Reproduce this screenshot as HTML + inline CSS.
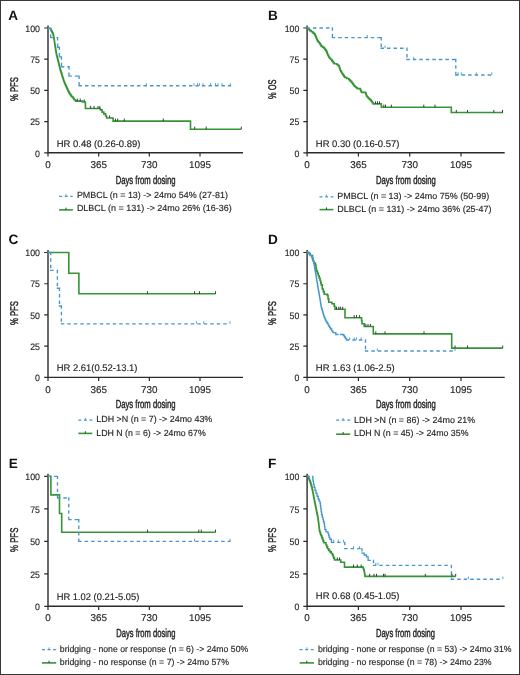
<!DOCTYPE html><html><head><meta charset="utf-8"><style>html,body{margin:0;padding:0;background:#fff;}#wrap{position:relative;width:520px;height:675px;overflow:hidden;}#bd{position:absolute;left:0;top:0;width:520px;height:675px;box-sizing:border-box;border:1px solid #383838;}svg{display:block;filter:blur(0.3px);}text{font-family:"Liberation Sans",sans-serif;text-rendering:geometricPrecision;}</style></head><body><div id="wrap">
<svg width="520" height="675" viewBox="0 0 520 675">
<rect x="0" y="0" width="520" height="675" fill="#fff"/>
<path d="M48,25.5V152.8H243" stroke="#2b2b2b" stroke-width="1.4" fill="none"/>
<path d="M44.2,28.00H48M44.2,59.20H48M44.2,90.40H48M44.2,121.60H48M44.2,152.80H48M48.00,152.8v3.6M98.67,152.8v3.6M149.33,152.8v3.6M200.00,152.8v3.6" stroke="#2b2b2b" stroke-width="1.2" fill="none"/>
<text x="40.0" y="31.70" font-size="9.4" font-weight="normal" text-anchor="end" fill="#262626" textLength="14.7" lengthAdjust="spacingAndGlyphs" stroke="#262626" stroke-width="0.15">100</text>
<text x="40.0" y="62.90" font-size="9.4" font-weight="normal" text-anchor="end" fill="#262626" textLength="9.8" lengthAdjust="spacingAndGlyphs" stroke="#262626" stroke-width="0.15">75</text>
<text x="40.0" y="94.10" font-size="9.4" font-weight="normal" text-anchor="end" fill="#262626" textLength="9.8" lengthAdjust="spacingAndGlyphs" stroke="#262626" stroke-width="0.15">50</text>
<text x="40.0" y="125.30" font-size="9.4" font-weight="normal" text-anchor="end" fill="#262626" textLength="9.8" lengthAdjust="spacingAndGlyphs" stroke="#262626" stroke-width="0.15">25</text>
<text x="40.0" y="156.50" font-size="9.4" font-weight="normal" text-anchor="end" fill="#262626" textLength="4.9" lengthAdjust="spacingAndGlyphs" stroke="#262626" stroke-width="0.15">0</text>
<text x="48.00" y="168.30" font-size="9.9" font-weight="normal" text-anchor="middle" fill="#262626" stroke="#262626" stroke-width="0.15">0</text>
<text x="98.67" y="168.30" font-size="9.9" font-weight="normal" text-anchor="middle" fill="#262626" stroke="#262626" stroke-width="0.15">365</text>
<text x="149.33" y="168.30" font-size="9.9" font-weight="normal" text-anchor="middle" fill="#262626" stroke="#262626" stroke-width="0.15">730</text>
<text x="200.00" y="168.30" font-size="9.9" font-weight="normal" text-anchor="middle" fill="#262626" stroke="#262626" stroke-width="0.15">1095</text>
<text x="8.2" y="19.7" font-size="13.6" font-weight="bold" text-anchor="start" fill="#111">A</text>
<text transform="translate(17.5,89.1) rotate(-90)" x="0" y="0" font-size="11.2" text-anchor="middle" fill="#262626" stroke="#262626" stroke-width="0.45" textLength="24" lengthAdjust="spacingAndGlyphs">% PFS</text>
<text x="115.65" y="183.9" font-size="11.6" font-weight="normal" text-anchor="start" fill="#262626" textLength="60" lengthAdjust="spacingAndGlyphs" stroke="#262626" stroke-width="0.45">Days from dosing</text>
<text x="56.7" y="146.8" font-size="9.6" font-weight="normal" text-anchor="start" fill="#262626" textLength="83.7" lengthAdjust="spacingAndGlyphs" stroke="#262626" stroke-width="0.15">HR 0.48 (0.26-0.89)</text>
<path d="M59.1,196.3H72.7" stroke="#4896cd" stroke-width="1.3" stroke-dasharray="3 2.6" fill="none"/>
<path d="M65.9,196.3v-2.2" stroke="#4896cd" stroke-width="0.9" fill="none"/>
<path d="M59.1,209.9H72.9" stroke="#369436" stroke-width="1.6" fill="none"/>
<path d="M66.0,209.9v-2.2" stroke="#2b2b2b" stroke-width="0.9" fill="none"/>
<text x="76.9" y="198.4" font-size="8.9" font-weight="normal" text-anchor="start" fill="#262626" textLength="151" lengthAdjust="spacingAndGlyphs" stroke="#262626" stroke-width="0.15">PMBCL (n = 13) -&gt; 24mo 54% (27-81)</text>
<text x="76.9" y="211.2" font-size="8.9" font-weight="normal" text-anchor="start" fill="#262626" textLength="154.8" lengthAdjust="spacingAndGlyphs" stroke="#262626" stroke-width="0.15">DLBCL (n = 131) -&gt; 24mo 26% (16-36)</text>
<path d="M48,28.3H50.30V28.80H50.80V29.77H51.30V30.73H51.80V31.70H52.23V32.53H52.67V33.37H53.10V34.20H53.30V35.10H53.50V36.00H53.70V36.90H53.87V37.93H54.03V38.97H54.20V40.00H54.34V41.00H54.48V42.00H54.62V43.00H54.76V44.00H54.90V45.00H55.06V45.98H55.22V46.96H55.38V47.94H55.54V48.92H55.70V49.90H55.86V50.88H56.02V51.86H56.18V52.84H56.34V53.82H56.50V54.80H56.74V55.72H56.98V56.65H57.21V57.58H57.45V58.50H57.69V59.42H57.92V60.35H58.16V61.28H58.40V62.20H58.62V63.12H58.85V64.05H59.08V64.97H59.30V65.90H59.52V66.83H59.75V67.75H59.98V68.67H60.20V69.60H60.52V70.60H60.83V71.60H61.15V72.60H61.47V73.60H61.78V74.60H62.10V75.60H62.40V76.58H62.70V77.57H63.00V78.55H63.30V79.53H63.60V80.52H63.90V81.50H64.33V82.48H64.77V83.47H65.20V84.45H65.63V85.43H66.07V86.42H66.50V87.40H66.95V88.35H67.40V89.30H67.85V90.25H68.30V91.20H68.75V92.15H69.20V93.10H69.78V93.95H70.35V94.80H70.92V95.65H71.50V96.50H72.40V97.40H73.30V98.30H73.85V99.15H74.40V100.00H75.60V101.10H81.90H82.50V102.00H85.30H85.33V102.93H85.36V103.86H85.39V104.79H85.41V105.71H85.44V106.64H85.47V107.57H85.50V108.50H100.3V109.9H102.1V112.1H103.8V113.9H105.6V116H106.6V118H113.1V121.1H190.5V129.2H241.3" stroke="#369436" stroke-width="1.6" fill="none"/>
<path d="M48.00,28.30H50.70M50.70,28.30V37.60M50.70,37.60H57.60M57.60,37.60V47.20M57.60,47.20H59.40M59.40,47.20V56.80M59.40,56.80H61.50M61.50,56.80V66.70M61.50,66.70H69.00M69.00,66.70V76.10M69.00,76.10H79.10M79.10,76.10V85.70M79.10,85.70H230.50" stroke="#4896cd" stroke-width="1.35" stroke-linecap="square" stroke-dasharray="2.15 4.35" fill="none"/>
<path d="M77.30,101.10v-2.6M80.20,101.10v-2.6M84.20,102.00v-2.6M90.60,108.50v-2.6M94.00,108.50v-2.6M98.00,108.50v-2.6M99.80,108.50v-2.6M109.60,118.00v-2.6M115.40,121.10v-2.6M117.70,121.10v-2.6M124.30,121.10v-2.6M163.30,121.10v-2.6M194.70,129.20v-2.6M206.20,129.20v-2.6M241.30,129.20v-2.6" stroke="#2b2b2b" stroke-width="0.9" fill="none"/>
<path d="M146.40,85.70v-2.6M194.00,85.70v-2.6M197.50,85.70v-2.6M199.50,85.70v-2.6M203.00,85.70v-2.6M210.50,85.70v-2.6M215.50,85.70v-2.6M218.00,85.70v-2.6M222.00,85.70v-2.6M230.30,85.70v-2.6" stroke="#4896cd" stroke-width="0.9" fill="none"/>
<path d="M307.1,25.5V152.8H504.7" stroke="#2b2b2b" stroke-width="1.4" fill="none"/>
<path d="M303.3,28.00H307.1M303.3,59.20H307.1M303.3,90.40H307.1M303.3,121.60H307.1M303.3,152.80H307.1M307.10,152.8v3.6M358.40,152.8v3.6M409.70,152.8v3.6M461.00,152.8v3.6" stroke="#2b2b2b" stroke-width="1.2" fill="none"/>
<text x="299.4" y="31.70" font-size="9.4" font-weight="normal" text-anchor="end" fill="#262626" textLength="14.7" lengthAdjust="spacingAndGlyphs" stroke="#262626" stroke-width="0.15">100</text>
<text x="299.4" y="62.90" font-size="9.4" font-weight="normal" text-anchor="end" fill="#262626" textLength="9.8" lengthAdjust="spacingAndGlyphs" stroke="#262626" stroke-width="0.15">75</text>
<text x="299.4" y="94.10" font-size="9.4" font-weight="normal" text-anchor="end" fill="#262626" textLength="9.8" lengthAdjust="spacingAndGlyphs" stroke="#262626" stroke-width="0.15">50</text>
<text x="299.4" y="125.30" font-size="9.4" font-weight="normal" text-anchor="end" fill="#262626" textLength="9.8" lengthAdjust="spacingAndGlyphs" stroke="#262626" stroke-width="0.15">25</text>
<text x="299.4" y="156.50" font-size="9.4" font-weight="normal" text-anchor="end" fill="#262626" textLength="4.9" lengthAdjust="spacingAndGlyphs" stroke="#262626" stroke-width="0.15">0</text>
<text x="307.10" y="168.30" font-size="9.9" font-weight="normal" text-anchor="middle" fill="#262626" stroke="#262626" stroke-width="0.15">0</text>
<text x="358.40" y="168.30" font-size="9.9" font-weight="normal" text-anchor="middle" fill="#262626" stroke="#262626" stroke-width="0.15">365</text>
<text x="409.70" y="168.30" font-size="9.9" font-weight="normal" text-anchor="middle" fill="#262626" stroke="#262626" stroke-width="0.15">730</text>
<text x="461.00" y="168.30" font-size="9.9" font-weight="normal" text-anchor="middle" fill="#262626" stroke="#262626" stroke-width="0.15">1095</text>
<text x="267.9" y="19.7" font-size="13.6" font-weight="bold" text-anchor="start" fill="#111">B</text>
<text transform="translate(276.4,89.3) rotate(-90)" x="0" y="0" font-size="11.2" text-anchor="middle" fill="#262626" stroke="#262626" stroke-width="0.45" textLength="19.5" lengthAdjust="spacingAndGlyphs">% OS</text>
<text x="375.9" y="183.9" font-size="11.6" font-weight="normal" text-anchor="start" fill="#262626" textLength="60" lengthAdjust="spacingAndGlyphs" stroke="#262626" stroke-width="0.45">Days from dosing</text>
<text x="315.8" y="146.8" font-size="9.6" font-weight="normal" text-anchor="start" fill="#262626" textLength="83.6" lengthAdjust="spacingAndGlyphs" stroke="#262626" stroke-width="0.15">HR 0.30 (0.16-0.57)</text>
<path d="M319.5,196.8H333.4" stroke="#4896cd" stroke-width="1.3" stroke-dasharray="3 2.6" fill="none"/>
<path d="M326.45,196.8v-2.2" stroke="#4896cd" stroke-width="0.9" fill="none"/>
<path d="M319.5,209.6H333.4" stroke="#369436" stroke-width="1.6" fill="none"/>
<path d="M326.45,209.6v-2.2" stroke="#2b2b2b" stroke-width="0.9" fill="none"/>
<text x="337.3" y="198.6" font-size="8.9" font-weight="normal" text-anchor="start" fill="#262626" textLength="151.9" lengthAdjust="spacingAndGlyphs" stroke="#262626" stroke-width="0.15">PMBCL (n = 13) -&gt; 24mo 75% (50-99)</text>
<text x="337.3" y="211.5" font-size="8.9" font-weight="normal" text-anchor="start" fill="#262626" textLength="154.2" lengthAdjust="spacingAndGlyphs" stroke="#262626" stroke-width="0.15">DLBCL (n = 131) -&gt; 24mo 36% (25-47)</text>
<path d="M307.1,28.3H307.50V28.50H308.65V29.55H309.80V30.60H311.35V31.75H312.90V32.90H313.85V33.70H314.80V34.50H315.20V35.45H315.60V36.40H316.00V37.35H316.40V38.30H316.77V39.20H317.13V40.10H317.50V41.00H318.27V41.90H319.03V42.80H319.80V43.70H320.33V44.60H320.87V45.50H321.40V46.40H322.75V47.35H324.10V48.30H324.87V49.33H325.63V50.37H326.40V51.40H326.77V52.35H327.15V53.30H327.52V54.25H327.90V55.20H328.43V56.23H328.97V57.27H329.50V58.30H330.65V59.45H331.80V60.60H332.57V61.63H333.33V62.67H334.10V63.70H336.80V64.50H337.95V65.45H339.10V66.40H339.38V67.35H339.65V68.30H339.93V69.25H340.20V70.20H340.77V71.20H341.33V72.20H341.90V73.20H342.48V74.06H343.06V74.92H343.64V75.78H344.22V76.64H344.80V77.50H346.75V78.45H348.70V79.40H349.63V80.37H350.57V81.33H351.50V82.30H352.23V83.28H352.95V84.25H353.67V85.22H354.40V86.20H355.37V87.00H356.33V87.80H357.30V88.60H360.20V89.50H360.67V90.47H361.13V91.43H361.60V92.40H365.50V92.90H365.85V93.85H366.20V94.80H366.55V95.75H366.90V96.70H367.85V97.70H368.80V98.70H369.80V99.65H370.80V100.60H371.60V101.70H372.40V102.80H373.20V103.90H381.30H381.33V105.00H381.37V106.10H381.40V107.20H451.3V112.5H503" stroke="#369436" stroke-width="1.6" fill="none"/>
<path d="M307.10,28.00H332.40M332.40,28.00V37.60M332.40,37.60H381.20M381.20,37.60V48.20M381.20,48.20H407.00M407.00,48.20V59.50M407.00,59.50H455.80M455.80,59.50V75.00M455.80,75.00H491.80" stroke="#4896cd" stroke-width="1.35" stroke-linecap="square" stroke-dasharray="2.15 4.35" fill="none"/>
<path d="M375.50,103.90v-2.6M377.50,103.90v-2.6M379.50,103.90v-2.6M383.80,107.20v-2.6M385.50,107.20v-2.6M391.30,107.20v-2.6M423.80,107.20v-2.6M435.00,107.20v-2.6M456.30,112.50v-2.6M467.50,112.50v-2.6M493.80,112.50v-2.6M502.50,112.50v-2.6" stroke="#2b2b2b" stroke-width="0.9" fill="none"/>
<path d="M367.30,37.60v-2.6M385.00,48.20v-2.6M413.70,59.50v-2.6M458.00,75.00v-2.6M461.30,75.00v-2.6M476.30,75.00v-2.6M491.80,75.00v-2.6" stroke="#4896cd" stroke-width="0.9" fill="none"/>
<path d="M48,250.0V377.4H243" stroke="#2b2b2b" stroke-width="1.4" fill="none"/>
<path d="M44.2,252.50H48M44.2,283.73H48M44.2,314.95H48M44.2,346.17H48M44.2,377.40H48M48.00,377.4v3.6M98.67,377.4v3.6M149.33,377.4v3.6M200.00,377.4v3.6" stroke="#2b2b2b" stroke-width="1.2" fill="none"/>
<text x="40.0" y="256.20" font-size="9.4" font-weight="normal" text-anchor="end" fill="#262626" textLength="14.7" lengthAdjust="spacingAndGlyphs" stroke="#262626" stroke-width="0.15">100</text>
<text x="40.0" y="287.43" font-size="9.4" font-weight="normal" text-anchor="end" fill="#262626" textLength="9.8" lengthAdjust="spacingAndGlyphs" stroke="#262626" stroke-width="0.15">75</text>
<text x="40.0" y="318.65" font-size="9.4" font-weight="normal" text-anchor="end" fill="#262626" textLength="9.8" lengthAdjust="spacingAndGlyphs" stroke="#262626" stroke-width="0.15">50</text>
<text x="40.0" y="349.87" font-size="9.4" font-weight="normal" text-anchor="end" fill="#262626" textLength="9.8" lengthAdjust="spacingAndGlyphs" stroke="#262626" stroke-width="0.15">25</text>
<text x="40.0" y="381.10" font-size="9.4" font-weight="normal" text-anchor="end" fill="#262626" textLength="4.9" lengthAdjust="spacingAndGlyphs" stroke="#262626" stroke-width="0.15">0</text>
<text x="48.00" y="392.70" font-size="9.9" font-weight="normal" text-anchor="middle" fill="#262626" stroke="#262626" stroke-width="0.15">0</text>
<text x="98.67" y="392.70" font-size="9.9" font-weight="normal" text-anchor="middle" fill="#262626" stroke="#262626" stroke-width="0.15">365</text>
<text x="149.33" y="392.70" font-size="9.9" font-weight="normal" text-anchor="middle" fill="#262626" stroke="#262626" stroke-width="0.15">730</text>
<text x="200.00" y="392.70" font-size="9.9" font-weight="normal" text-anchor="middle" fill="#262626" stroke="#262626" stroke-width="0.15">1095</text>
<text x="8.5" y="243.8" font-size="13.6" font-weight="bold" text-anchor="start" fill="#111">C</text>
<text transform="translate(17.5,313.1) rotate(-90)" x="0" y="0" font-size="11.2" text-anchor="middle" fill="#262626" stroke="#262626" stroke-width="0.45" textLength="24" lengthAdjust="spacingAndGlyphs">% PFS</text>
<text x="115.65" y="408.3" font-size="11.6" font-weight="normal" text-anchor="start" fill="#262626" textLength="60" lengthAdjust="spacingAndGlyphs" stroke="#262626" stroke-width="0.45">Days from dosing</text>
<text x="56.7" y="371.3" font-size="9.6" font-weight="normal" text-anchor="start" fill="#262626" textLength="80.8" lengthAdjust="spacingAndGlyphs" stroke="#262626" stroke-width="0.15">HR 2.61(0.52-13.1)</text>
<path d="M78.3,420.1H92.3" stroke="#4896cd" stroke-width="1.3" stroke-dasharray="3 2.6" fill="none"/>
<path d="M85.3,420.1v-2.2" stroke="#4896cd" stroke-width="0.9" fill="none"/>
<path d="M78.3,433.4H92.3" stroke="#369436" stroke-width="1.6" fill="none"/>
<path d="M85.3,433.4v-2.2" stroke="#2b2b2b" stroke-width="0.9" fill="none"/>
<text x="96.3" y="422.4" font-size="8.9" font-weight="normal" text-anchor="start" fill="#262626" textLength="116" lengthAdjust="spacingAndGlyphs" stroke="#262626" stroke-width="0.15">LDH &gt;N (n = 7) -&gt; 24mo 43%</text>
<text x="96.3" y="435.8" font-size="8.9" font-weight="normal" text-anchor="start" fill="#262626" textLength="109.4" lengthAdjust="spacingAndGlyphs" stroke="#262626" stroke-width="0.15">LDH N (n = 6) -&gt; 24mo 67%</text>
<path d="M48,252.5H68.8V273.2H78.9V293.8H215.5" stroke="#369436" stroke-width="1.6" fill="none"/>
<path d="M48.00,252.50H50.70M50.70,252.50V270.40M50.70,270.40H57.40M57.40,270.40V288.20M57.40,288.20H59.50M59.50,288.20V306.00M59.50,306.00H61.40M61.40,306.00V323.80M61.40,323.80H230.00" stroke="#4896cd" stroke-width="1.35" stroke-linecap="square" stroke-dasharray="2.15 4.35" fill="none"/>
<path d="M147.50,293.80v-2.6M194.50,293.80v-2.6M199.50,293.80v-2.6M215.50,293.80v-2.6" stroke="#2b2b2b" stroke-width="0.9" fill="none"/>
<path d="M196.30,323.80v-2.6M203.80,323.80v-2.6M230.00,323.80v-2.6" stroke="#4896cd" stroke-width="0.9" fill="none"/>
<path d="M307.1,250.0V377.4H504.7" stroke="#2b2b2b" stroke-width="1.4" fill="none"/>
<path d="M303.3,252.50H307.1M303.3,283.73H307.1M303.3,314.95H307.1M303.3,346.17H307.1M303.3,377.40H307.1M307.10,377.4v3.6M358.40,377.4v3.6M409.70,377.4v3.6M461.00,377.4v3.6" stroke="#2b2b2b" stroke-width="1.2" fill="none"/>
<text x="299.4" y="256.20" font-size="9.4" font-weight="normal" text-anchor="end" fill="#262626" textLength="14.7" lengthAdjust="spacingAndGlyphs" stroke="#262626" stroke-width="0.15">100</text>
<text x="299.4" y="287.43" font-size="9.4" font-weight="normal" text-anchor="end" fill="#262626" textLength="9.8" lengthAdjust="spacingAndGlyphs" stroke="#262626" stroke-width="0.15">75</text>
<text x="299.4" y="318.65" font-size="9.4" font-weight="normal" text-anchor="end" fill="#262626" textLength="9.8" lengthAdjust="spacingAndGlyphs" stroke="#262626" stroke-width="0.15">50</text>
<text x="299.4" y="349.87" font-size="9.4" font-weight="normal" text-anchor="end" fill="#262626" textLength="9.8" lengthAdjust="spacingAndGlyphs" stroke="#262626" stroke-width="0.15">25</text>
<text x="299.4" y="381.10" font-size="9.4" font-weight="normal" text-anchor="end" fill="#262626" textLength="4.9" lengthAdjust="spacingAndGlyphs" stroke="#262626" stroke-width="0.15">0</text>
<text x="307.10" y="392.70" font-size="9.9" font-weight="normal" text-anchor="middle" fill="#262626" stroke="#262626" stroke-width="0.15">0</text>
<text x="358.40" y="392.70" font-size="9.9" font-weight="normal" text-anchor="middle" fill="#262626" stroke="#262626" stroke-width="0.15">365</text>
<text x="409.70" y="392.70" font-size="9.9" font-weight="normal" text-anchor="middle" fill="#262626" stroke="#262626" stroke-width="0.15">730</text>
<text x="461.00" y="392.70" font-size="9.9" font-weight="normal" text-anchor="middle" fill="#262626" stroke="#262626" stroke-width="0.15">1095</text>
<text x="267.9" y="243.8" font-size="13.6" font-weight="bold" text-anchor="start" fill="#111">D</text>
<text transform="translate(276.3,313.1) rotate(-90)" x="0" y="0" font-size="11.2" text-anchor="middle" fill="#262626" stroke="#262626" stroke-width="0.45" textLength="24" lengthAdjust="spacingAndGlyphs">% PFS</text>
<text x="375.9" y="408.3" font-size="11.6" font-weight="normal" text-anchor="start" fill="#262626" textLength="60" lengthAdjust="spacingAndGlyphs" stroke="#262626" stroke-width="0.45">Days from dosing</text>
<text x="315.8" y="371.3" font-size="9.6" font-weight="normal" text-anchor="start" fill="#262626" textLength="78.8" lengthAdjust="spacingAndGlyphs" stroke="#262626" stroke-width="0.15">HR 1.63 (1.06-2.5)</text>
<path d="M336.1,420.1H350.2" stroke="#4896cd" stroke-width="1.3" stroke-dasharray="3 2.6" fill="none"/>
<path d="M343.15,420.1v-2.2" stroke="#4896cd" stroke-width="0.9" fill="none"/>
<path d="M336.1,434.2H350.2" stroke="#369436" stroke-width="1.6" fill="none"/>
<path d="M343.15,434.2v-2.2" stroke="#2b2b2b" stroke-width="0.9" fill="none"/>
<text x="354" y="422.6" font-size="8.9" font-weight="normal" text-anchor="start" fill="#262626" textLength="121.2" lengthAdjust="spacingAndGlyphs" stroke="#262626" stroke-width="0.15">LDH &gt;N (n = 86) -&gt; 24mo 21%</text>
<text x="354" y="436.2" font-size="8.9" font-weight="normal" text-anchor="start" fill="#262626" textLength="114.5" lengthAdjust="spacingAndGlyphs" stroke="#262626" stroke-width="0.15">LDH N (n = 45) -&gt; 24mo 35%</text>
<path d="M307.1,252.5H308.50V253.50H310.20V255.50H312.50V258.40H313.10V260.70H313.70V263.00H315.40V265.30H315.95V268.20H316.50V271.10H317.40V273.40H318.30V275.70H319.15V278.00H320.00V280.30H320.60V282.60H321.20V284.90H322.30V289.00H323.25V291.65H324.20V294.30H327.30V295.40H328.05V298.85H328.80V302.30H331.90V303.80H334.20V306.20H335.00V309.30H345V317.7H361.2H361.60V320.75H362.00V323.80H364.20V326.50H373.3V333.9H451.7V348.1H502.7" stroke="#369436" stroke-width="1.6" fill="none"/>
<path d="M307.10,252.50H309.50M309.50,252.50V254.20M309.50,254.20H310.50M310.50,254.20V255.35M310.50,255.35H311.50M311.50,255.35V256.50M311.50,256.50H312.10M312.10,256.50V258.00M312.10,258.00H312.70M312.70,258.00V259.50M312.70,259.50H313.20M313.20,259.50V260.95M313.20,260.95H313.70M313.70,260.95V262.40M313.70,262.40H313.96M313.96,262.40V263.92M313.96,263.92H314.22M314.22,263.92V265.44M314.22,265.44H314.48M314.48,265.44V266.96M314.48,266.96H314.74M314.74,266.96V268.48M314.74,268.48H315.00M315.00,268.48V270.00M315.00,270.00H315.25M315.25,270.00V271.47M315.25,271.47H315.50M315.50,271.47V272.93M315.50,272.93H315.75M315.75,272.93V274.40M315.75,274.40H316.00M316.00,274.40V275.87M316.00,275.87H316.25M316.25,275.87V277.33M316.25,277.33H316.50M316.50,277.33V278.80M316.50,278.80H316.75M316.75,278.80V280.33M316.75,280.33H317.00M317.00,280.33V281.87M317.00,281.87H317.25M317.25,281.87V283.40M317.25,283.40H317.50M317.50,283.40V284.93M317.50,284.93H317.75M317.75,284.93V286.47M317.75,286.47H318.00M318.00,286.47V288.00M318.00,288.00H318.23M318.23,288.00V289.33M318.23,289.33H318.47M318.47,289.33V290.67M318.47,290.67H318.70M318.70,290.67V292.00M318.70,292.00H318.93M318.93,292.00V293.33M318.93,293.33H319.17M319.17,293.33V294.67M319.17,294.67H319.40M319.40,294.67V296.00M319.40,296.00H319.64M319.64,296.00V297.45M319.64,297.45H319.88M319.88,297.45V298.90M319.88,298.90H320.11M320.11,298.90V300.35M320.11,300.35H320.35M320.35,300.35V301.80M320.35,301.80H320.59M320.59,301.80V303.25M320.59,303.25H320.82M320.82,303.25V304.70M320.82,304.70H321.06M321.06,304.70V306.15M321.06,306.15H321.30M321.30,306.15V307.60M321.30,307.60H321.71M321.71,307.60V308.97M321.71,308.97H322.13M322.13,308.97V310.34M322.13,310.34H322.54M322.54,310.34V311.71M322.54,311.71H322.96M322.96,311.71V313.09M322.96,313.09H323.37M323.37,313.09V314.46M323.37,314.46H323.79M323.79,314.46V315.83M323.79,315.83H324.20M324.20,315.83V317.20M324.20,317.20H324.80M324.80,317.20V318.63M324.80,318.63H325.40M325.40,318.63V320.07M325.40,320.07H326.00M326.00,320.07V321.50M326.00,321.50H327.05M327.05,321.50V323.20M327.05,323.20H328.10M328.10,323.20V324.90M328.10,324.90H328.90M328.90,324.90V326.27M328.90,326.27H329.70M329.70,326.27V327.63M329.70,327.63H330.50M330.50,327.63V329.00M330.50,329.00H331.70M331.70,329.00V330.80M331.70,330.80H332.90M332.90,330.80V332.60M332.90,332.60H335.80M335.80,332.60V334.50M335.80,334.50H340.60M340.60,334.50H343.50M343.50,334.50V335.50M343.50,335.50H344.45M344.45,335.50V337.00M344.45,337.00H345.40M345.40,337.00V338.50M345.40,338.50H346.50M346.50,338.50V340.00M346.50,340.00H365.50M365.50,340.00V351.00M365.50,351.00H455.00" stroke="#4896cd" stroke-width="1.35" stroke-linecap="square" stroke-dasharray="2.15 4.35" fill="none"/>
<path d="M336.50,309.30v-2.6M338.80,309.30v-2.6M340.40,309.30v-2.6M342.70,309.30v-2.6M354.20,317.70v-2.6M356.50,317.70v-2.6M359.60,317.70v-2.6M365.80,326.50v-2.6M368.00,326.50v-2.6M370.40,326.50v-2.6M375.80,333.90v-2.6M385.00,333.90v-2.6M424.00,333.90v-2.6M455.00,348.10v-2.6M467.50,348.10v-2.6M502.70,348.10v-2.6" stroke="#2b2b2b" stroke-width="0.9" fill="none"/>
<path d="M349.60,340.00v-2.6M354.20,340.00v-2.6M356.50,340.00v-2.6M361.20,340.00v-2.6M377.30,351.00v-2.6M455.00,351.00v-2.6" stroke="#4896cd" stroke-width="0.9" fill="none"/>
<path d="M48,473.8V606.3H243" stroke="#2b2b2b" stroke-width="1.4" fill="none"/>
<path d="M44.2,476.30H48M44.2,508.80H48M44.2,541.30H48M44.2,573.80H48M44.2,606.30H48M48.00,606.3v3.6M98.67,606.3v3.6M149.33,606.3v3.6M200.00,606.3v3.6" stroke="#2b2b2b" stroke-width="1.2" fill="none"/>
<text x="40.0" y="480.00" font-size="9.4" font-weight="normal" text-anchor="end" fill="#262626" textLength="14.7" lengthAdjust="spacingAndGlyphs" stroke="#262626" stroke-width="0.15">100</text>
<text x="40.0" y="512.50" font-size="9.4" font-weight="normal" text-anchor="end" fill="#262626" textLength="9.8" lengthAdjust="spacingAndGlyphs" stroke="#262626" stroke-width="0.15">75</text>
<text x="40.0" y="545.00" font-size="9.4" font-weight="normal" text-anchor="end" fill="#262626" textLength="9.8" lengthAdjust="spacingAndGlyphs" stroke="#262626" stroke-width="0.15">50</text>
<text x="40.0" y="577.50" font-size="9.4" font-weight="normal" text-anchor="end" fill="#262626" textLength="9.8" lengthAdjust="spacingAndGlyphs" stroke="#262626" stroke-width="0.15">25</text>
<text x="40.0" y="610.00" font-size="9.4" font-weight="normal" text-anchor="end" fill="#262626" textLength="4.9" lengthAdjust="spacingAndGlyphs" stroke="#262626" stroke-width="0.15">0</text>
<text x="48.00" y="621.10" font-size="9.9" font-weight="normal" text-anchor="middle" fill="#262626" stroke="#262626" stroke-width="0.15">0</text>
<text x="98.67" y="621.10" font-size="9.9" font-weight="normal" text-anchor="middle" fill="#262626" stroke="#262626" stroke-width="0.15">365</text>
<text x="149.33" y="621.10" font-size="9.9" font-weight="normal" text-anchor="middle" fill="#262626" stroke="#262626" stroke-width="0.15">730</text>
<text x="200.00" y="621.10" font-size="9.9" font-weight="normal" text-anchor="middle" fill="#262626" stroke="#262626" stroke-width="0.15">1095</text>
<text x="8.85" y="468" font-size="13.6" font-weight="bold" text-anchor="start" fill="#111">E</text>
<text transform="translate(17.6,539.8) rotate(-90)" x="0" y="0" font-size="11.2" text-anchor="middle" fill="#262626" stroke="#262626" stroke-width="0.45" textLength="24.3" lengthAdjust="spacingAndGlyphs">% PFS</text>
<text x="116.2" y="637.0" font-size="11.6" font-weight="normal" text-anchor="start" fill="#262626" textLength="59.2" lengthAdjust="spacingAndGlyphs" stroke="#262626" stroke-width="0.45">Days from dosing</text>
<text x="56.7" y="599.7" font-size="9.6" font-weight="normal" text-anchor="start" fill="#262626" textLength="82.7" lengthAdjust="spacingAndGlyphs" stroke="#262626" stroke-width="0.15">HR 1.02 (0.21-5.05)</text>
<path d="M41.9,649.6H56.2" stroke="#4896cd" stroke-width="1.3" stroke-dasharray="3 2.6" fill="none"/>
<path d="M49.05,649.6v-2.2" stroke="#4896cd" stroke-width="0.9" fill="none"/>
<path d="M41.9,662.9H56.2" stroke="#369436" stroke-width="1.6" fill="none"/>
<path d="M49.05,662.9v-2.2" stroke="#2b2b2b" stroke-width="0.9" fill="none"/>
<text x="59.8" y="651.5" font-size="8.9" font-weight="normal" text-anchor="start" fill="#262626" textLength="188.4" lengthAdjust="spacingAndGlyphs" stroke="#262626" stroke-width="0.15">bridging - none or response (n = 6) -&gt; 24mo 50%</text>
<text x="59.8" y="664.6" font-size="8.9" font-weight="normal" text-anchor="start" fill="#262626" textLength="169.1" lengthAdjust="spacingAndGlyphs" stroke="#262626" stroke-width="0.15">bridging - no response (n = 7) -&gt; 24mo 57%</text>
<path d="M48,476.3H50.9V494.9H59.5V513.5H61.7V532.2H215.5" stroke="#369436" stroke-width="1.6" fill="none"/>
<path d="M48.00,476.30H57.50M57.50,476.30V498.00M57.50,498.00H68.80M68.80,498.00V519.60M68.80,519.60H78.80M78.80,519.60V541.30M78.80,541.30H230.00" stroke="#4896cd" stroke-width="1.35" stroke-linecap="square" stroke-dasharray="2.15 4.35" fill="none"/>
<path d="M147.50,532.20v-2.6M198.80,532.20v-2.6M201.30,532.20v-2.6M215.50,532.20v-2.6" stroke="#2b2b2b" stroke-width="0.9" fill="none"/>
<path d="M194.50,541.30v-2.6M230.00,541.30v-2.6" stroke="#4896cd" stroke-width="0.9" fill="none"/>
<path d="M307.1,473.8V606.3H504.7" stroke="#2b2b2b" stroke-width="1.4" fill="none"/>
<path d="M303.3,476.30H307.1M303.3,508.80H307.1M303.3,541.30H307.1M303.3,573.80H307.1M303.3,606.30H307.1M307.10,606.3v3.6M358.40,606.3v3.6M409.70,606.3v3.6M461.00,606.3v3.6" stroke="#2b2b2b" stroke-width="1.2" fill="none"/>
<text x="299.4" y="480.00" font-size="9.4" font-weight="normal" text-anchor="end" fill="#262626" textLength="14.7" lengthAdjust="spacingAndGlyphs" stroke="#262626" stroke-width="0.15">100</text>
<text x="299.4" y="512.50" font-size="9.4" font-weight="normal" text-anchor="end" fill="#262626" textLength="9.8" lengthAdjust="spacingAndGlyphs" stroke="#262626" stroke-width="0.15">75</text>
<text x="299.4" y="545.00" font-size="9.4" font-weight="normal" text-anchor="end" fill="#262626" textLength="9.8" lengthAdjust="spacingAndGlyphs" stroke="#262626" stroke-width="0.15">50</text>
<text x="299.4" y="577.50" font-size="9.4" font-weight="normal" text-anchor="end" fill="#262626" textLength="9.8" lengthAdjust="spacingAndGlyphs" stroke="#262626" stroke-width="0.15">25</text>
<text x="299.4" y="610.00" font-size="9.4" font-weight="normal" text-anchor="end" fill="#262626" textLength="4.9" lengthAdjust="spacingAndGlyphs" stroke="#262626" stroke-width="0.15">0</text>
<text x="307.10" y="621.10" font-size="9.9" font-weight="normal" text-anchor="middle" fill="#262626" stroke="#262626" stroke-width="0.15">0</text>
<text x="358.40" y="621.10" font-size="9.9" font-weight="normal" text-anchor="middle" fill="#262626" stroke="#262626" stroke-width="0.15">365</text>
<text x="409.70" y="621.10" font-size="9.9" font-weight="normal" text-anchor="middle" fill="#262626" stroke="#262626" stroke-width="0.15">730</text>
<text x="461.00" y="621.10" font-size="9.9" font-weight="normal" text-anchor="middle" fill="#262626" stroke="#262626" stroke-width="0.15">1095</text>
<text x="267.9" y="468" font-size="13.6" font-weight="bold" text-anchor="start" fill="#111">F</text>
<text transform="translate(276.4,539.8) rotate(-90)" x="0" y="0" font-size="11.2" text-anchor="middle" fill="#262626" stroke="#262626" stroke-width="0.45" textLength="24.3" lengthAdjust="spacingAndGlyphs">% PFS</text>
<text x="375.9" y="637.0" font-size="11.6" font-weight="normal" text-anchor="start" fill="#262626" textLength="59.2" lengthAdjust="spacingAndGlyphs" stroke="#262626" stroke-width="0.45">Days from dosing</text>
<text x="315.8" y="599.4" font-size="9.6" font-weight="normal" text-anchor="start" fill="#262626" textLength="83.6" lengthAdjust="spacingAndGlyphs" stroke="#262626" stroke-width="0.15">HR 0.68 (0.45-1.05)</text>
<path d="M299.6,649.6H314" stroke="#4896cd" stroke-width="1.3" stroke-dasharray="3 2.6" fill="none"/>
<path d="M306.8,649.6v-2.2" stroke="#4896cd" stroke-width="0.9" fill="none"/>
<path d="M299.6,662.9H314" stroke="#369436" stroke-width="1.6" fill="none"/>
<path d="M306.8,662.9v-2.2" stroke="#2b2b2b" stroke-width="0.9" fill="none"/>
<text x="317.9" y="651.5" font-size="8.9" font-weight="normal" text-anchor="start" fill="#262626" textLength="193.6" lengthAdjust="spacingAndGlyphs" stroke="#262626" stroke-width="0.15">bridging - none or response (n = 53) -&gt; 24mo 31%</text>
<text x="317.9" y="664.6" font-size="8.9" font-weight="normal" text-anchor="start" fill="#262626" textLength="173.6" lengthAdjust="spacingAndGlyphs" stroke="#262626" stroke-width="0.15">bridging - no response (n = 78) -&gt; 24mo 23%</text>
<path d="M307.1,476.3H308.20V477.00H308.75V478.48H309.30V479.95H309.85V481.42H310.40V482.90H310.90V484.63H311.40V486.37H311.90V488.10H312.27V489.83H312.63V491.57H313.00V493.30H313.27V494.77H313.55V496.25H313.83V497.73H314.10V499.20H314.40V500.68H314.70V502.15H315.00V503.62H315.30V505.10H315.57V506.58H315.85V508.05H316.12V509.52H316.40V511.00H316.77V512.85H317.15V514.70H317.52V516.55H317.90V518.40H318.17V520.33H318.43V522.27H318.70V524.20H318.90V525.93H319.10V527.65H319.30V529.38H319.50V531.10H320.00V532.63H320.50V534.17H321.00V535.70H321.80V537.65H322.60V539.60H323.15V541.15H323.70V542.70H326.00V545.00H326.80V546.90H327.60V548.80H328.75V550.35H329.90V551.90H331.25V553.45H332.60V555.00H333.15V556.55H333.70V558.10H334.50V560.00H340.7V562.3H344.5V567.1H362.7H363.20V568.57H363.70V570.03H364.20V571.50H364.47V573.13H364.73V574.77H365.00V576.40H455.7" stroke="#369436" stroke-width="1.6" fill="none"/>
<path d="M307.10,476.30H312.70M312.70,476.30H312.85M312.85,476.30V478.85M312.85,478.85H313.00M313.00,478.85V481.40M313.00,481.40H313.55M313.55,481.40V484.35M313.55,484.35H314.10M314.10,484.35V487.30M314.10,487.30H315.05M315.05,487.30V490.30M315.05,490.30H316.00M316.00,490.30V493.30M316.00,493.30H317.10M317.10,493.30V496.25M317.10,496.25H318.20M318.20,496.25V499.20M318.20,499.20H319.15M319.15,499.20V501.40M319.15,501.40H320.10M320.10,501.40V503.60M320.10,503.60H320.45M320.45,503.60V506.20M320.45,506.20H320.80M320.80,506.20V508.80M320.80,508.80H321.20M321.20,508.80V511.75M321.20,511.75H321.60M321.60,511.75V514.70M321.60,514.70H322.30M322.30,514.70V517.30M322.30,517.30H323.00M323.00,517.30V519.90M323.00,519.90H323.55M323.55,519.90V521.75M323.55,521.75H324.10M324.10,521.75V523.60M324.10,523.60H324.50M324.50,523.60V526.60M324.50,526.60H324.90M324.90,526.60V529.60M324.90,529.60H326.00M326.00,529.60V531.90M326.00,531.90H328.00M328.00,531.90V533.40M328.00,533.40H328.55M328.55,533.40V535.35M328.55,535.35H329.10M329.10,535.35V537.30M329.10,537.30H329.90M329.90,537.30V539.20M329.90,539.20H331.40M331.40,539.20V542.30M331.40,542.30H344.80M344.80,542.30V548.60M344.80,548.60H361.90M361.90,548.60V553.10M361.90,553.10H364.20M364.20,553.10V555.00M364.20,555.00H366.50M366.50,555.00V556.90M366.50,556.90H368.10M368.10,556.90V560.30M368.10,560.30H373.50M373.50,560.30V565.30M373.50,565.30H451.40M451.40,565.30V579.20M451.40,579.20H502.90" stroke="#4896cd" stroke-width="1.35" stroke-linecap="square" stroke-dasharray="2.15 4.35" fill="none"/>
<path d="M337.30,560.00v-2.6M339.60,560.00v-2.6M353.50,567.10v-2.6M357.30,567.10v-2.6M361.20,567.10v-2.6M369.60,576.40v-2.6M374.00,576.40v-2.6M376.50,576.40v-2.6M383.50,576.40v-2.6M385.00,576.40v-2.6M425.30,576.40v-2.6M452.00,576.40v-2.6M455.70,576.40v-2.6" stroke="#2b2b2b" stroke-width="0.9" fill="none"/>
<path d="M333.70,542.30v-2.6M338.30,542.30v-2.6M343.40,542.30v-2.6M353.50,548.60v-2.6M359.60,548.60v-2.6M375.80,565.30v-2.6M378.00,565.30v-2.6M468.40,579.20v-2.6M502.90,579.20v-2.6" stroke="#4896cd" stroke-width="0.9" fill="none"/>
</svg><div id="bd"></div></div></body></html>
